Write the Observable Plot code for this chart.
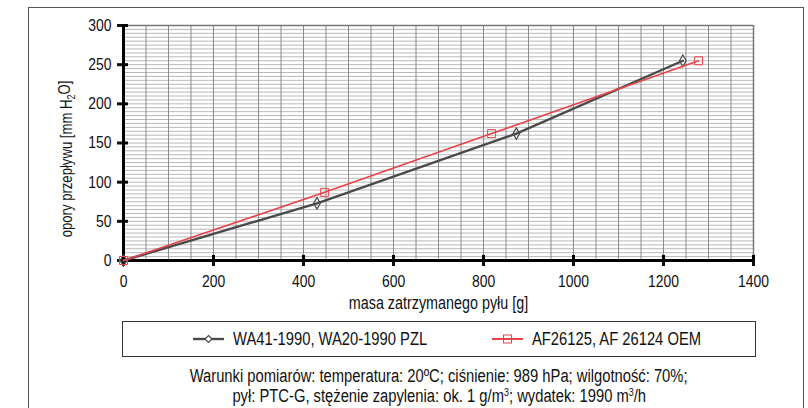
<!DOCTYPE html>
<html>
<head>
<meta charset="utf-8">
<script src="https://cdn.jsdelivr.net/npm/d3@7"></script>
<script src="https://cdn.jsdelivr.net/npm/@observablehq/plot@0.6"></script>
<style>
  html, body { margin: 0; padding: 0; background: #fff; }
  body { font-family: "Liberation Sans", Arial, sans-serif; }
  #wrap { position: relative; width: 808px; height: 408px; overflow: hidden; }
  #frame { position: absolute; left: 28px; top: 7px; width: 776px; height: 420px; border: 1px solid #555; box-sizing: border-box; }
  #chart { position: absolute; left: 0; top: 0; }
  #legend { position: absolute; left: 122px; top: 321px; width: 634px; height: 36px; border: 1px solid #333; box-sizing: border-box; background: #fff; }
  .item { position: absolute; top: 0; height: 34px; display: flex; align-items: center; font-size: 18px; color: #111; white-space: nowrap; }
  .item svg { margin-right: 9px; flex: none; }
  .item span { display: inline-block; transform: scaleX(0.82); transform-origin: 0 50%; }
  #caption { position: absolute; left: 122px; width: 634px; top: 366px; text-align: center; font-size: 18px; line-height: 20px; color: #111; }
  #caption div { height: 20px; white-space: nowrap; }
  #caption span { display: inline-block; transform: scaleX(0.82); transform-origin: 50% 50%; white-space: nowrap; }
  sup { font-size: 11px; line-height: 0; vertical-align: 6px; }
</style>
</head>
<body>
<div id="wrap">
  <div id="frame"></div>
  <div id="chart"></div>
  <div id="legend"></div>
  <div id="caption"></div>
</div>
<script>
// Data
const seriesNames = ["WA41-1990, WA20-1990 PZL", "AF26125, AF 26124 OEM"];
const massPZL = [0, 430, 873, 1243];
const resPZL  = [0, 73, 162, 255];
const massOEM = [0, 447, 818, 1278];
const resOEM  = [0, 87, 162, 255];
const xTicks = [0, 200, 400, 600, 800, 1000, 1200, 1400];
const yTicks = [0, 50, 100, 150, 200, 250, 300];
const xLabel = "masa zatrzymanego pyłu [g]";
const yLabelParts = ["opory przepływu [mm H", "2", "O]"];
const captionLines = [
  "Warunki pomiarów: temperatura: 20ºC; ciśnienie: 989 hPa; wilgotność: 70%;",
  "pył: PTC-G, stężenie zapylenia: ok. 1 g/m<sup>3</sup>; wydatek: 1990 m<sup>3</sup>/h"
];

const colors = ["#4a4a4a", "#e8434a"];
const NARROW = 0.82;

const pzl = massPZL.map((m, i) => ({x: m, y: resPZL[i]}));
const oem = massOEM.map((m, i) => ({x: m, y: resOEM[i]}));

const xMinor = d3.range(0, 1401, 50);
const yMinor = d3.range(0, 301, 5);

const plot = Plot.plot({
  width: 808,
  height: 320,
  marginLeft: 123,
  marginRight: 55,
  marginTop: 25,
  marginBottom: 60,
  style: {fontFamily: '"Liberation Sans", Arial, sans-serif', fontSize: "17px", color: "#111", background: "transparent"},
  x: {domain: [0, 1400]},
  y: {domain: [0, 300]},
  marks: [
    Plot.ruleY(yMinor, {stroke: "#b8b8b8", strokeWidth: 1}),
    Plot.ruleX(xMinor, {stroke: "#8a8a8a", strokeWidth: 1}),
    Plot.ruleY([300], {stroke: "#777", strokeWidth: 1.5}),
    Plot.ruleX([1400], {stroke: "#777", strokeWidth: 1.5}),
    Plot.axisX({ticks: xTicks, tickFormat: d => String(d), tickSize: 6, tickPadding: 8, strokeWidth: 3, fontSize: 17, label: null}),
    Plot.axisX({ticks: [], label: xLabel, labelAnchor: "center", labelArrow: "none", labelOffset: 48, fontSize: 17.5}),
    Plot.axisY({ticks: yTicks, tickFormat: d => String(d), tickSize: 6, tickPadding: 6, strokeWidth: 3, fontSize: 17, label: null}),
    Plot.axisY({ticks: [], label: "Y_LABEL", labelAnchor: "center", labelArrow: "none", labelOffset: 63, fontSize: 16}),
    Plot.ruleX(xTicks, {y1: 0, y2: 6.5, stroke: "#000", strokeWidth: 3}),
    Plot.ruleY(yTicks, {x1: 0, x2: 11, stroke: "#000", strokeWidth: 3}),
    Plot.ruleY([0], {stroke: "#000", strokeWidth: 3}),
    Plot.ruleX([0], {stroke: "#000", strokeWidth: 3}),
    Plot.line(pzl, {x: "x", y: "y", stroke: colors[0], strokeWidth: 2.4}),
    Plot.dot(pzl, {x: "x", y: "y", symbol: "diamond", r: 3.5, stroke: colors[0], strokeWidth: 1.2, fill: "none"}),
    Plot.line(oem, {x: "x", y: "y", stroke: colors[1], strokeWidth: 1.6}),
    Plot.dot(oem, {x: "x", y: "y", symbol: "square", r: 4.5, stroke: colors[1], strokeWidth: 1, fill: "none"})
  ]
});
document.getElementById("chart").appendChild(plot);

// y label with subscript
d3.select(plot).selectAll("text").each(function() {
  if (this.textContent === "Y_LABEL") {
    const t = d3.select(this);
    t.text(null);
    t.append("tspan").text(yLabelParts[0]);
    t.append("tspan").attr("font-size", 11).attr("dy", "0.3em").text(yLabelParts[1]);
    t.append("tspan").attr("dy", "-0.3em").text(yLabelParts[2]);
  }
});

// condensed look: wrap each text in a group scaled about its anchor
const svgNS = "http://www.w3.org/2000/svg";
Array.from(plot.querySelectorAll("text")).forEach(text => {
  const parent = text.parentNode;
  const r = text.getBoundingClientRect();
  const rotated = (text.getAttribute("transform") || "").includes("rotate");
  const anchor = getComputedStyle(text).textAnchor;
  let sx, sy;
  if (rotated) {
    sx = r.left + r.width / 2;
    sy = r.top + r.height / 2;
  } else {
    sx = anchor === "end" ? r.right : anchor === "middle" ? r.left + r.width / 2 : r.left;
    sy = r.top + r.height / 2;
  }
  const pt = plot.createSVGPoint();
  pt.x = sx; pt.y = sy;
  const p = pt.matrixTransform(parent.getScreenCTM().inverse());
  const g = document.createElementNS(svgNS, "g");
  g.setAttribute("transform", rotated
    ? `translate(0,${p.y + 16}) scale(1,${NARROW}) translate(0,${-p.y})`
    : `translate(${p.x},0) scale(${NARROW},1) translate(${-p.x},0)`);
  parent.insertBefore(g, text);
  g.appendChild(text);
});

// Legend
const legend = document.getElementById("legend");
const itemLeft = [70, 369];
seriesNames.forEach((name, i) => {
  const it = document.createElement("div");
  it.className = "item";
  it.style.left = itemLeft[i] + "px";
  const sw = i === 0
    ? `<svg width="31" height="12"><line x1="0" y1="6" x2="31" y2="6" stroke="${colors[0]}" stroke-width="2.4"/><path d="M15.5,2.5 L19,6 L15.5,9.5 L12,6 Z" fill="#fff" stroke="${colors[0]}" stroke-width="1.2"/></svg>`
    : `<svg width="31" height="12"><line x1="0" y1="6" x2="31" y2="6" stroke="${colors[1]}" stroke-width="2"/><rect x="11.5" y="2" width="8" height="8" fill="none" stroke="${colors[1]}" stroke-width="1"/></svg>`;
  it.innerHTML = sw + `<span>${name}</span>`;
  legend.appendChild(it);
});

document.getElementById("caption").innerHTML = captionLines.map(l => `<div><span>${l}</span></div>`).join("");
</script>
</body>
</html>
